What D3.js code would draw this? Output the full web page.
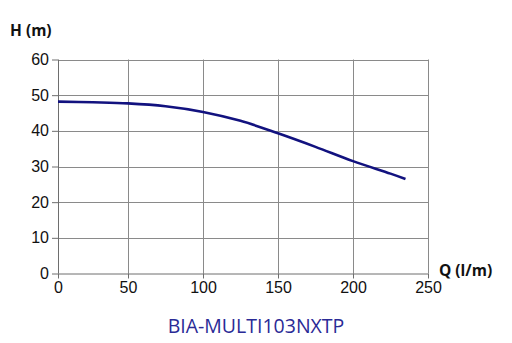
<!DOCTYPE html>
<html>
<head>
<meta charset="utf-8">
<script src="https://cdn.jsdelivr.net/npm/d3@7"></script>
<style>
  body { margin: 0; background: #fff; }
  svg { display: block; font-family: "Open Sans", sans-serif; }
  .grid line { stroke: #8a8a8a; stroke-width: 1; }
  .axis path, .axis line { stroke: #6e6e6e; stroke-width: 1; }
  .axis text { font-size: 16px; fill: #111; }
  .label { font-size: 15.5px; font-weight: bold; fill: #111; }
</style>
</head>
<body>
<div id="graph-container"></div>
<script>
const flow = [0, 25, 50, 75, 100, 125, 150, 175, 200, 225, 235];
const head = [48.2, 48.0, 47.7, 46.9, 45.3, 42.8, 39.3, 35.5, 31.5, 28.0, 26.5];
const xTicks = [0, 50, 100, 150, 200, 250];
const yTicks = [0, 10, 20, 30, 40, 50, 60];
const title = 'BIA-MULTI103NXTP';

const width = 512, height = 343;

// the source picture has a slightly narrower first interval
const x = d3.scaleLinear().domain([0, 50, 250]).range([58, 128, 428]);
const y = d3.scaleLinear().domain([0, 60]).range([273.5, 59.5]);

const svg = d3.select('#graph-container')
              .append('svg')
              .attr('width', width)
              .attr('height', height);

// gridlines
const grid = svg.append('g').attr('class', 'grid');
grid.selectAll('line.h')
    .data(yTicks.filter(d => d > 0))
    .enter()
    .append('line')
    .attr('x1', x(0))
    .attr('x2', x(250))
    .attr('y1', d => Math.round(y(d)) + 0.5)
    .attr('y2', d => Math.round(y(d)) + 0.5);
grid.selectAll('line.v')
    .data(xTicks.filter(d => d > 0))
    .enter()
    .append('line')
    .attr('x1', d => Math.round(x(d)) + 0.5)
    .attr('x2', d => Math.round(x(d)) + 0.5)
    .attr('y1', y(60))
    .attr('y2', y(0));

// axes
const xAxis = d3.axisBottom(x).tickValues(xTicks).tickSize(5).tickPadding(3);
const yAxis = d3.axisLeft(y).tickValues(yTicks).tickSize(6).tickPadding(3);

const gx = svg.append('g')
              .attr('class', 'axis')
              .attr('transform', 'translate(0,' + y(0) + ')')
              .call(xAxis);
gx.select('.domain').attr('d', 'M' + x(0) + ',0.5H' + x(250));

const gy = svg.append('g')
              .attr('class', 'axis')
              .attr('transform', 'translate(' + x(0) + ',0)')
              .call(yAxis);
gy.select('.domain').attr('d', 'M0.5,' + y(60) + 'V' + y(0));

// curve
const line = d3.line()
               .x((d, i) => x(flow[i]))
               .y(d => y(d))
               .curve(d3.curveCatmullRom.alpha(0.5));

svg.append('path')
   .datum(head)
   .attr('d', line)
   .attr('fill', 'none')
   .attr('stroke', '#12127f')
   .attr('stroke-width', 2.6);

// axis labels
svg.append('text')
   .attr('class', 'label')
   .attr('x', 10)
   .attr('y', 36)
   .text('H (m)');

svg.append('text')
   .attr('class', 'label')
   .attr('x', 439)
   .attr('y', 276)
   .text('Q (l/m)');

// title under the chart
svg.append('text')
   .attr('x', 256)
   .attr('y', 333)
   .attr('text-anchor', 'middle')
   .attr('font-size', 19.5)
   .attr('fill', '#2a2a96')
   .text(title);
</script>
</body>
</html>
